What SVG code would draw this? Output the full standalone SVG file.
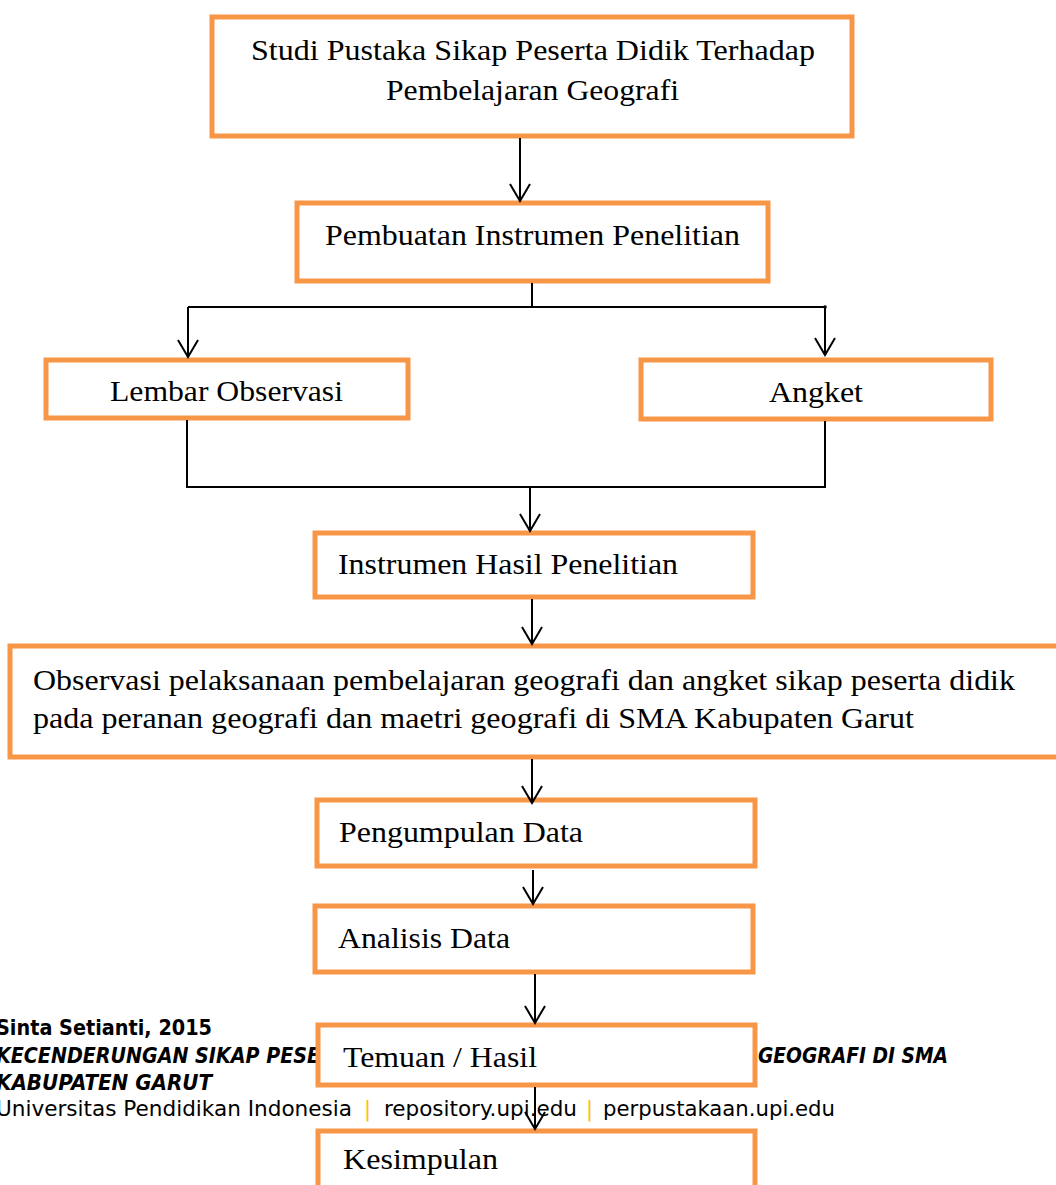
<svg xmlns="http://www.w3.org/2000/svg" width="1056" height="1185" viewBox="0 0 1056 1185">
<style>
.box{fill:#fff;stroke:#F79646;stroke-width:5}
.t{font-family:"Liberation Serif","Times New Roman",serif;font-size:30px;fill:#000}
.c{fill:none;stroke:#000;stroke-width:2}
.f{font-family:"DejaVu Sans","Liberation Sans",sans-serif;font-size:21px;fill:#000}
.fb{font-weight:bold}
.fi{font-weight:bold;font-style:italic}
.pipe{fill:#FFC000}
</style>
<defs>
<marker id="arr" viewBox="-19 -12 21 24" refX="0" refY="0" markerWidth="21" markerHeight="24" markerUnits="userSpaceOnUse" orient="auto">
<path d="M-17,-10 L0,0 L-17,10" fill="none" stroke="#000" stroke-width="2"/>
</marker>
</defs>
<rect width="1056" height="1185" fill="#fff"/>
<g id="footer">
<text class="f fb" x="-4" y="1035" textLength="216" lengthAdjust="spacingAndGlyphs">Sinta Setianti, 2015</text>
<text class="f fi" x="-4" y="1063" textLength="324" lengthAdjust="spacingAndGlyphs">KECENDERUNGAN SIKAP PESE</text>
<text class="f fi" x="758" y="1063" textLength="190" lengthAdjust="spacingAndGlyphs">GEOGRAFI DI SMA</text>
<text class="f fi" x="-4" y="1090" textLength="216" lengthAdjust="spacingAndGlyphs">KABUPATEN GARUT</text>
<text class="f" x="-4" y="1116" textLength="356" lengthAdjust="spacingAndGlyphs">Universitas Pendidikan Indonesia</text>
<text class="f pipe" x="364" y="1116">|</text>
<text class="f" x="384" y="1116" textLength="193" lengthAdjust="spacingAndGlyphs">repository.upi.edu</text>
<text class="f pipe" x="586" y="1116">|</text>
<text class="f" x="603" y="1116" textLength="232" lengthAdjust="spacingAndGlyphs">perpustakaan.upi.edu</text>
</g>
<g id="n1">
<rect class="box" x="212" y="17" width="640" height="119"/>
<text class="t" x="251" y="60" font-size="31" textLength="564" lengthAdjust="spacingAndGlyphs">Studi Pustaka Sikap Peserta Didik Terhadap</text>
<text class="t" x="386" y="100" font-size="31" textLength="293" lengthAdjust="spacingAndGlyphs">Pembelajaran Geografi</text>
</g>
<g id="n2">
<rect class="box" x="297" y="203" width="471" height="78"/>
<text class="t" x="325" y="245" textLength="415" lengthAdjust="spacingAndGlyphs">Pembuatan Instrumen Penelitian</text>
</g>
<g id="n3">
<rect class="box" x="46" y="360" width="362" height="58"/>
<text class="t" x="110" y="401" textLength="233" lengthAdjust="spacingAndGlyphs">Lembar Observasi</text>
</g>
<g id="n4">
<rect class="box" x="641" y="360" width="350" height="59"/>
<text class="t" x="769" y="402" textLength="94" lengthAdjust="spacingAndGlyphs">Angket</text>
</g>
<g id="n5">
<rect class="box" x="315" y="533" width="438" height="64"/>
<text class="t" x="338" y="574" textLength="340" lengthAdjust="spacingAndGlyphs">Instrumen Hasil Penelitian</text>
</g>
<g id="n6">
<rect class="box" x="10" y="646" width="1060" height="111"/>
<text class="t" x="33" y="690" textLength="982" lengthAdjust="spacingAndGlyphs">Observasi pelaksanaan pembelajaran geografi dan angket sikap peserta didik</text>
<text class="t" x="33" y="728" textLength="881" lengthAdjust="spacingAndGlyphs">pada peranan geografi dan maetri geografi di SMA Kabupaten Garut</text>
</g>
<g id="n7">
<rect class="box" x="317" y="800" width="438" height="66"/>
<text class="t" x="339" y="842" textLength="244" lengthAdjust="spacingAndGlyphs">Pengumpulan Data</text>
</g>
<g id="n8">
<rect class="box" x="315" y="906" width="438" height="66"/>
<text class="t" x="338" y="948" textLength="172" lengthAdjust="spacingAndGlyphs">Analisis Data</text>
</g>
<g id="n9">
<rect class="box" x="318" y="1025" width="437" height="60"/>
<text class="t" x="343" y="1067" textLength="194" lengthAdjust="spacingAndGlyphs">Temuan / Hasil</text>
</g>
<g id="n10">
<rect class="box" x="318" y="1131" width="437" height="70"/>
<text class="t" x="343" y="1169" textLength="155" lengthAdjust="spacingAndGlyphs">Kesimpulan</text>
</g>
<g id="connectors">
<line class="c" x1="520" y1="138" x2="520" y2="201" marker-end="url(#arr)"/>
<polyline class="c" points="532,283 532,307"/>
<polyline class="c" points="188,307 825,307"/>
<line class="c" x1="188" y1="307" x2="188" y2="357" marker-end="url(#arr)"/>
<line class="c" x1="825" y1="307" x2="825" y2="355" marker-end="url(#arr)"/>
<circle cx="825" cy="307" r="1.8" fill="#000"/>
<polyline class="c" points="187,420 187,487 825,487 825,421"/>
<line class="c" x1="530" y1="487" x2="530" y2="531" marker-end="url(#arr)"/>
<line class="c" x1="532" y1="599" x2="532" y2="644" marker-end="url(#arr)"/>
<line class="c" x1="532" y1="759" x2="532" y2="803" marker-end="url(#arr)"/>
<line class="c" x1="533" y1="870" x2="533" y2="904" marker-end="url(#arr)"/>
<line class="c" x1="535" y1="974" x2="535" y2="1023" marker-end="url(#arr)"/>
<line class="c" x1="535" y1="1087" x2="535" y2="1129" marker-end="url(#arr)"/>
</g>
</svg>
